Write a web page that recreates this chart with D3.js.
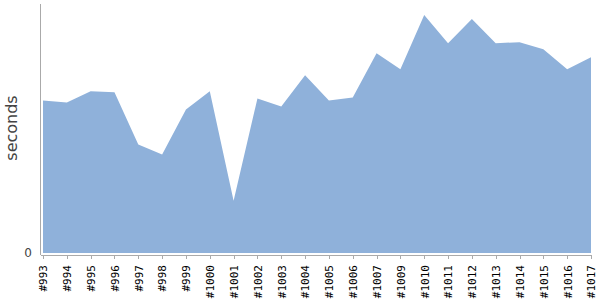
<!DOCTYPE html>
<meta charset="utf-8">
<style>
body { margin: 0; background: #fff; }
.axis path, .axis line { stroke: #aaa; fill: none; shape-rendering: crispEdges; }
.area { fill: #8fb1da; }
</style>
<svg width="600" height="300"></svg>
<script src="https://d3js.org/d3.v7.min.js"></script>
<script>

// build ids (#1008 is not in the run list)
var builds = ["#993", "#994", "#995", "#996", "#997", "#998", "#999", "#1000",
  "#1001", "#1002", "#1003", "#1004", "#1005", "#1006", "#1007", "#1009",
  "#1010", "#1011", "#1012", "#1013", "#1014", "#1015", "#1016", "#1017"];

// duration per build, seconds
var durations = [152, 150, 161, 160, 108, 98, 143, 161,
  52, 154, 146, 177, 152, 155, 199, 183,
  237, 209, 233, 209, 210, 203, 183, 195];

var yTicks = [0];

var font = "'DejaVu Sans', sans-serif";

var svg = d3.select("svg"),
    margin = {top: 4, right: 9, bottom: 47, left: 40},
    width = +svg.attr("width") - margin.left - margin.right,
    height = +svg.attr("height") - margin.top - margin.bottom;

var g = svg.append("g").attr("transform", "translate(" + margin.left + "," + margin.top + ")");

var x = d3.scalePoint()
    .domain(builds)
    .range([3, width]);

var y = d3.scaleLinear()
    .domain([0, 248])
    .range([height, 0]);

var data = builds.map(function(b, i) { return {build: b, value: durations[i]}; });

var area = d3.area()
    .x(function(d) { return x(d.build); })
    .y0(y(0))
    .y1(function(d) { return y(d.value); });

g.append("path")
    .datum(data)
    .attr("class", "area")
    .attr("d", area);

// x axis sits a couple of px under the area
var xAxis = g.append("g")
    .attr("class", "x axis")
    .attr("transform", "translate(0," + (height + 2) + ")")
    .call(d3.axisBottom(x).tickSize(4).tickSizeOuter(0));

xAxis.select(".domain").attr("d", "M0.5,0H" + width);

xAxis.selectAll("text")
    .attr("transform", "rotate(-90)")
    .attr("x", -10)
    .attr("y", 0)
    .attr("dy", "0.35em")
    .style("text-anchor", "end")
    .style("font-family", "'DejaVu Sans Mono', monospace")
    .style("font-size", "11px")
    .style("fill", "#000");

var yAxis = g.append("g")
    .attr("class", "y axis")
    .call(d3.axisLeft(y).tickValues(yTicks).tickSize(0).tickPadding(8));

yAxis.select(".domain").attr("d", "M0.5,0V" + (height + 2));

yAxis.selectAll("text")
    .style("font-family", font)
    .style("font-size", "12px")
    .style("fill", "#444");

svg.append("text")
    .attr("transform", "translate(17," + (margin.top + 124) + ") rotate(-90)")
    .style("text-anchor", "middle")
    .style("font-family", font)
    .style("font-size", "16px")
    .style("fill", "#444")
    .text("seconds");

</script>
